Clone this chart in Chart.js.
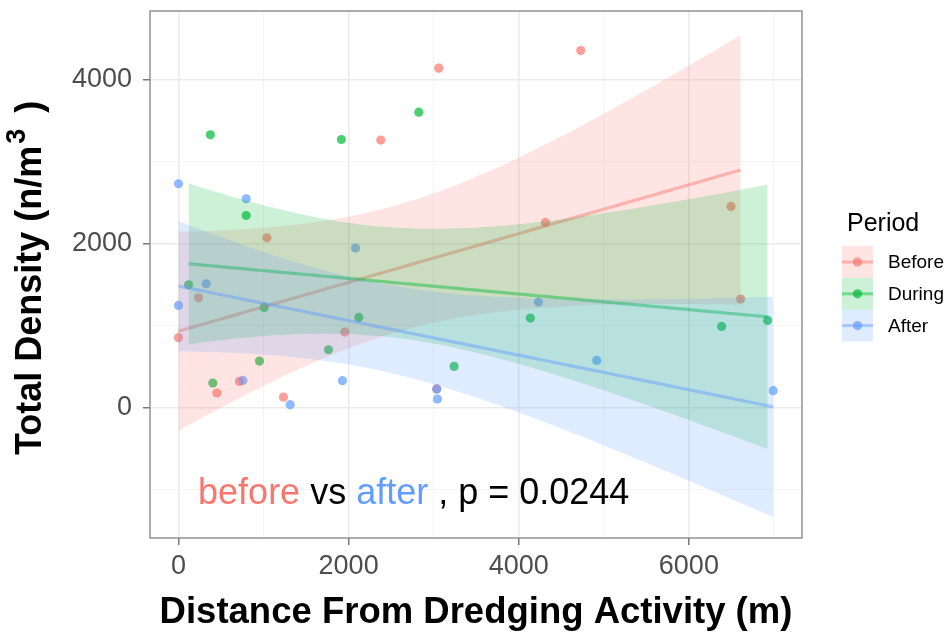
<!DOCTYPE html>
<html>
<head>
<meta charset="utf-8">
<script src="https://cdn.jsdelivr.net/npm/chart.js@4/dist/chart.umd.min.js"></script>
<style>
  html, body { margin: 0; padding: 0; background: #ffffff; }
  #wrap { position: relative; width: 948px; height: 638px; }
</style>
</head>
<body>
<div id="wrap"><canvas id="chart" width="948" height="638"></canvas></div>
<script>
// ---- data: distance from dredging (m) and total density (n/m^3) per period ----
const periods = ['Before', 'During', 'After'];

const beforeDistance = [0, 235, 451, 717, 1234, 1039, 1954, 2378, 3060, 3036, 4314, 4729, 6495, 6609];
const beforeDensity  = [854, 1340, 179, 321, 130, 2073, 923, 3265, 4143, 232, 2260, 4357, 2455, 1325];

const duringDistance = [375, 796, 1915, 2825, 118, 1007, 404, 952, 1763, 2120, 3240, 4136, 6385, 6926];
const duringDensity  = [3329, 2345, 3272, 3606, 1500, 1223, 301, 569, 707, 1101, 504, 1093, 992, 1065];

const afterDistance  = [0, 796, 2081, 0, 325, 757, 1313, 1927, 3044, 3036, 4231, 4917, 6992];
const afterDensity   = [2732, 2549, 1947, 1248, 1512, 333, 37, 329, 106, 225, 1289, 577, 207];

// axis ticks
const xMajorTicks = [0, 2000, 4000, 6000];
const xMinorTicks = [1000, 3000, 5000, 7000];
const yMajorTicks = [0, 2000, 4000];
const yMinorTicks = [-1000, 1000, 3000];

// texts
const xTitle = 'Distance From Dredging Activity (m)';
const yTitleParts = ['Total Density (n/m', '3', ')'];
const legendTitle = 'Period';
const comparisonParts = ['before', ' vs ', 'after', ' , p = 0.0244'];

// ---- styling ----
const FONT = "'Liberation Sans', Arial, Helvetica, sans-serif";
const periodRGB = { Before: [248, 118, 109], During: [0, 186, 56], After: [97, 156, 255] };
const rgba = (c, a) => `rgba(${c[0]},${c[1]},${c[2]},${a})`;

const X_MIN = -335, X_MAX = 7330;
const Y_MIN = -1590, Y_MAX = 4840;

// 97.5% quantile of Student's t (Cornish-Fisher expansion)
function tQuantile975(df) {
  const z = 1.959963985;
  const g1 = (Math.pow(z, 3) + z) / 4;
  const g2 = (5 * Math.pow(z, 5) + 16 * Math.pow(z, 3) + 3 * z) / 96;
  const g3 = (3 * Math.pow(z, 7) + 19 * Math.pow(z, 5) + 17 * Math.pow(z, 3) - 15 * z) / 384;
  const g4 = (79 * Math.pow(z, 9) + 776 * Math.pow(z, 7) + 1482 * Math.pow(z, 5) - 1920 * Math.pow(z, 3) - 945 * z) / 92160;
  return z + g1 / df + g2 / (df * df) + g3 / Math.pow(df, 3) + g4 / Math.pow(df, 4);
}

// ordinary least squares fit with 95% confidence band
function linearFit(xs, ys, steps = 80) {
  const n = xs.length;
  const mx = xs.reduce((a, b) => a + b, 0) / n;
  const my = ys.reduce((a, b) => a + b, 0) / n;
  let sxx = 0, sxy = 0;
  for (let i = 0; i < n; i++) {
    sxx += (xs[i] - mx) ** 2;
    sxy += (xs[i] - mx) * (ys[i] - my);
  }
  const slope = sxy / sxx;
  const icept = my - slope * mx;
  let sse = 0;
  for (let i = 0; i < n; i++) sse += (ys[i] - icept - slope * xs[i]) ** 2;
  const s = Math.sqrt(sse / (n - 2));
  const t = tQuantile975(n - 2);
  const lo = Math.min(...xs), hi = Math.max(...xs);
  const fit = [], upper = [], lower = [];
  for (let k = 0; k < steps; k++) {
    const x = lo + (hi - lo) * k / (steps - 1);
    const yhat = icept + slope * x;
    const se = s * Math.sqrt(1 / n + (x - mx) ** 2 / sxx);
    fit.push({ x, y: yhat });
    upper.push({ x, y: yhat + t * se });
    lower.push({ x, y: yhat - t * se });
  }
  return { fit, upper, lower };
}

const groups = [
  { name: 'Before', xs: beforeDistance, ys: beforeDensity },
  { name: 'During', xs: duringDistance, ys: duringDensity },
  { name: 'After',  xs: afterDistance,  ys: afterDensity }
];

// build datasets; higher "order" is painted first
const datasets = [];
let order = 100;
groups.forEach(g => {
  const c = periodRGB[g.name];
  datasets.push({
    type: 'scatter',
    label: g.name,
    data: g.xs.map((x, i) => ({ x, y: g.ys[i] })),
    backgroundColor: rgba(c, 0.7),
    borderWidth: 0,
    pointRadius: 4.6,
    pointHoverRadius: 4.6,
    order: order--
  });
});
groups.forEach(g => {
  const c = periodRGB[g.name];
  const f = linearFit(g.xs, g.ys);
  const lowerIndex = datasets.length;
  datasets.push({
    type: 'line', label: g.name + ' lower', data: f.lower,
    borderWidth: 0, pointRadius: 0, fill: false, tension: 0, order: order--
  });
  datasets.push({
    type: 'line', label: g.name + ' upper', data: f.upper,
    borderWidth: 0, pointRadius: 0, tension: 0,
    fill: lowerIndex, backgroundColor: rgba(c, 0.2), order: order--
  });
  datasets.push({
    type: 'line', label: g.name + ' fit', data: f.fit,
    borderColor: rgba(c, 0.45), borderWidth: 3.2, pointRadius: 0, fill: false, tension: 0, order: order--
  });
});

const isIn = (arr, v) => arr.some(a => Math.abs(a - v) < 1e-6);

// panel border, comparison label, y title and period legend
const decorations = {
  id: 'decorations',
  afterDatasetsDraw(chart) {
    const { ctx, chartArea: a, scales } = chart;
    ctx.save();
    // comparison label
    ctx.font = `36px ${FONT}`;
    ctx.textBaseline = 'middle';
    ctx.textAlign = 'left';
    const partColors = [rgba(periodRGB.Before, 1), '#000000', rgba(periodRGB.After, 1), '#000000'];
    let tx = scales.x.getPixelForValue(230);
    const ty = scales.y.getPixelForValue(-1050);
    comparisonParts.forEach((p, i) => {
      ctx.fillStyle = partColors[i];
      ctx.fillText(p, tx, ty);
      tx += ctx.measureText(p).width;
    });
    // panel border
    ctx.strokeStyle = '#8c8c8c';
    ctx.lineWidth = 1.4;
    ctx.strokeRect(a.left, a.top, a.right - a.left, a.bottom - a.top);
    ctx.restore();
  },
  afterDraw(chart) {
    const { ctx } = chart;
    ctx.save();

    // y axis title with superscript, rotated (reads bottom to top)
    const mainFont = `bold 36px ${FONT}`;
    const supFont = `bold 27px ${FONT}`;
    ctx.translate(31, 455);
    ctx.rotate(-Math.PI / 2);
    ctx.fillStyle = '#000000';
    ctx.textBaseline = 'middle';
    ctx.textAlign = 'left';
    let px = 0;
    ctx.font = mainFont;
    ctx.fillText(yTitleParts[0], px, 0);
    px += ctx.measureText(yTitleParts[0]).width + 2;
    ctx.font = supFont;
    ctx.fillText(yTitleParts[1], px, -13);
    px += ctx.measureText(yTitleParts[1]).width + 16;
    ctx.font = mainFont;
    ctx.fillText(yTitleParts[2], px, 0);
    ctx.setTransform(1, 0, 0, 1, 0, 0);

    // legend
    ctx.textBaseline = 'middle';
    ctx.textAlign = 'left';
    ctx.fillStyle = '#000000';
    ctx.font = `25px ${FONT}`;
    ctx.fillText(legendTitle, 847, 224);
    periods.forEach((p, i) => {
      const c = periodRGB[p];
      const cy = 262 + i * 31.8;
      const kx = 842, kw = 31, kh = 31.8;
      ctx.fillStyle = rgba(c, 0.2);
      ctx.fillRect(kx, cy - kh / 2, kw, kh);
      ctx.strokeStyle = rgba(c, 0.45);
      ctx.lineWidth = 3;
      ctx.beginPath();
      ctx.moveTo(kx, cy);
      ctx.lineTo(kx + kw, cy);
      ctx.stroke();
      ctx.fillStyle = rgba(c, 0.7);
      ctx.beginPath();
      ctx.arc(kx + kw / 2, cy, 4.6, 0, Math.PI * 2);
      ctx.fill();
      ctx.fillStyle = '#000000';
      ctx.font = `19px ${FONT}`;
      ctx.fillText(p, 888, cy + 1);
    });
    ctx.restore();
  }
};

const gridColor = (majors) => ctx => isIn(majors, ctx.tick.value) ? '#EBEBEB' : '#F3F3F3';
const gridWidth = (majors) => ctx => isIn(majors, ctx.tick.value) ? 1.6 : 0.9;
const tickMarkColor = (majors) => ctx => isIn(majors, ctx.tick.value) ? '#555555' : 'rgba(0,0,0,0)';

new Chart(document.getElementById('chart'), {
  type: 'scatter',
  data: { datasets },
  plugins: [decorations],
  options: {
    responsive: false,
    animation: false,
    events: [],
    devicePixelRatio: 1,
    layout: { padding: { left: 0, right: 146, top: 11, bottom: 0 } },
    plugins: {
      legend: { display: false },
      tooltip: { enabled: false },
      filler: { propagate: false }
    },
    scales: {
      x: {
        type: 'linear',
        min: X_MIN,
        max: X_MAX,
        afterBuildTicks: s => { s.ticks = [...xMajorTicks, ...xMinorTicks].sort((a, b) => a - b).map(v => ({ value: v })); },
        afterFit: s => { s.height = 100; s.paddingLeft = 0; s.paddingRight = 0; },
        border: { display: false },
        grid: {
          color: gridColor(xMajorTicks),
          lineWidth: gridWidth(xMajorTicks),
          tickColor: tickMarkColor(xMajorTicks),
          tickLength: 7,
          tickWidth: 1.2
        },
        ticks: {
          autoSkip: false,
          maxRotation: 0,
          padding: 5,
          color: '#4D4D4D',
          font: { family: FONT, size: 27 },
          callback: v => isIn(xMajorTicks, v) ? String(v) : ''
        },
        title: {
          display: true,
          text: xTitle,
          color: '#000000',
          font: { family: FONT, size: 36.5, weight: 'bold' },
          padding: { top: 0, bottom: 3 }
        }
      },
      y: {
        type: 'linear',
        min: Y_MIN,
        max: Y_MAX,
        afterBuildTicks: s => { s.ticks = [...yMajorTicks, ...yMinorTicks].sort((a, b) => a - b).map(v => ({ value: v })); },
        afterFit: s => { s.width = 150; s.paddingTop = 0; s.paddingBottom = 0; },
        border: { display: false },
        grid: {
          color: gridColor(yMajorTicks),
          lineWidth: gridWidth(yMajorTicks),
          tickColor: tickMarkColor(yMajorTicks),
          tickLength: 7,
          tickWidth: 1.2
        },
        ticks: {
          autoSkip: false,
          padding: 11,
          color: '#4D4D4D',
          font: { family: FONT, size: 27 },
          callback: v => isIn(yMajorTicks, v) ? String(v) : ''
        },
        title: { display: false }
      }
    }
  }
});
</script>
</body>
</html>
